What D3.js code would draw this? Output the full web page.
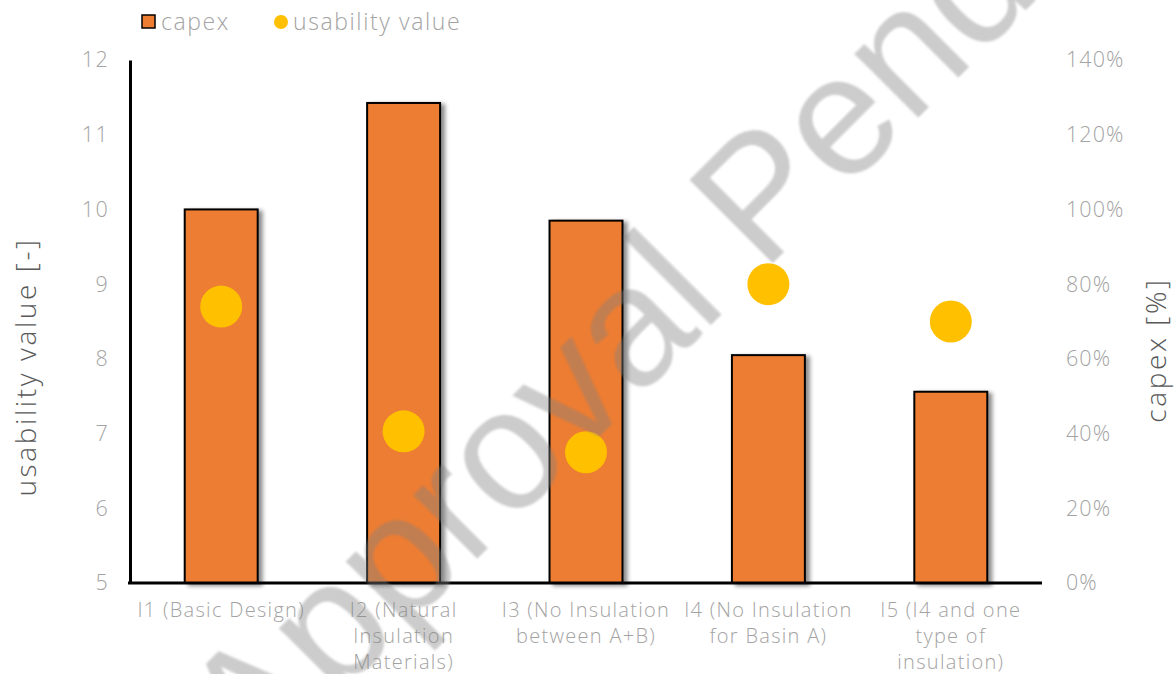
<!DOCTYPE html>
<html>
<head>
<meta charset="utf-8">
<script src="https://cdn.jsdelivr.net/npm/d3@7"></script>
<style>
  html, body { margin: 0; padding: 0; background: #fff; }
  svg { display: block; font-family: "Open Sans", Lato, sans-serif; font-weight: 300; }
</style>
</head>
<body>
<svg id="chart" width="1175" height="674"></svg>
<script>
// Design variants
const categories = ["I1", "I2", "I3", "I4", "I5"];
const categoryLines = [
  ["I1 (Basic Design)"],
  ["I2 (Natural", "Insulation", "Materials)"],
  ["I3 (No Insulation", "between A+B)"],
  ["I4 (No Insulation", "for Basin A)"],
  ["I5 (I4 and one", "type of", "insulation)"]
];
// capex relative to the basic design (fraction)
const capex = [1.00, 1.285, 0.97, 0.61, 0.512];
// usability value [-]
const usability = [8.7, 7.03, 6.75, 9.0, 8.5];

const leftTicks = [5, 6, 7, 8, 9, 10, 11, 12];
const rightTicks = [0, 0.2, 0.4, 0.6, 0.8, 1.0, 1.2, 1.4];

const svg = d3.select("#chart");
const plot = { left: 130, right: 1042, top: 60, bottom: 583 };

const x = d3.scaleBand().domain(categories).range([plot.left, plot.right]).paddingInner(0.6).paddingOuter(0.3);
const yL = d3.scaleLinear().domain([5, 12]).range([plot.bottom, plot.top]);
const yR = d3.scaleLinear().domain([0, 1.4]).range([plot.bottom, plot.top]);

const defs = svg.append("defs");
const shadow = defs.append("filter").attr("id", "barShadow")
  .attr("x", "-20%").attr("y", "-5%").attr("width", "150%").attr("height", "110%");
shadow.append("feDropShadow").attr("dx", 4).attr("dy", 2).attr("stdDeviation", 2)
  .attr("flood-color", "#000").attr("flood-opacity", 0.45);
const soft = defs.append("filter").attr("id", "soft");
soft.append("feGaussianBlur").attr("stdDeviation", 0.8);

const tickColor = "#a3a3a3";
const font = "'Open Sans', Lato, sans-serif";

// Bars (capex, right axis)
svg.append("g").selectAll("rect").data(categories).join("rect")
  .attr("x", d => x(d))
  .attr("y", (d, i) => yR(capex[i]))
  .attr("width", x.bandwidth())
  .attr("height", (d, i) => yR(0) - yR(capex[i]))
  .attr("fill", "#ED7D31")
  .attr("stroke", "#000")
  .attr("stroke-width", 2)
  .attr("filter", "url(#barShadow)");

// Usability markers (left axis)
svg.append("g").selectAll("circle").data(categories).join("circle")
  .attr("cx", d => x(d) + x.bandwidth() / 2)
  .attr("cy", (d, i) => yL(usability[i]))
  .attr("r", 21)
  .attr("fill", "#FFC000");

function styleTicks(sel, size, spacing) {
  sel.attr("fill", tickColor).attr("font-size", size).attr("font-weight", 300)
    .attr("font-family", font).attr("letter-spacing", spacing);
}

// Left axis
const gL = svg.append("g").attr("transform", `translate(${plot.left},0)`)
  .call(d3.axisLeft(yL).tickValues(leftTicks).tickSize(0).tickPadding(21).tickFormat(d3.format("d")));
gL.select(".domain").attr("stroke", "#000").attr("stroke-width", 3);
styleTicks(gL.selectAll("text"), 21.5, 1.3);

// Right axis (labels only)
const gR = svg.append("g").attr("transform", `translate(${plot.right},0)`)
  .call(d3.axisRight(yR).tickValues(rightTicks).tickSize(0).tickPadding(24).tickFormat(d3.format(".0%")));
gR.select(".domain").remove();
styleTicks(gR.selectAll("text"), 21.5, 1.1);

// Bottom axis with wrapped category labels
const gB = svg.append("g").attr("transform", `translate(0,${plot.bottom})`)
  .call(d3.axisBottom(x).tickSize(0).tickPadding(0).tickFormat(""));
gB.select(".domain").attr("stroke", "#000").attr("stroke-width", 3)
  .attr("d", `M${plot.left - 2},0H${plot.right}`);
gB.selectAll(".tick text").each(function(d, i) {
  const t = d3.select(this).attr("y", 0).attr("dy", null);
  styleTicks(t, 20, 1.3);
  categoryLines[i].forEach((line, j) => {
    t.append("tspan").attr("x", 0).attr("y", 34 + j * 26).text(line);
  });
});

// Axis titles
svg.append("text")
  .attr("transform", "translate(36,367) rotate(-90)")
  .attr("text-anchor", "middle")
  .attr("fill", "#595959").attr("font-size", 28).attr("letter-spacing", 2.6)
  .text("usability value [-]");
svg.append("text")
  .attr("transform", "translate(1166,350) rotate(-90)")
  .attr("text-anchor", "middle")
  .attr("fill", "#595959").attr("font-size", 28).attr("letter-spacing", 2.6)
  .text("capex [%]");

// Legend
const legend = svg.append("g").attr("font-size", 23).attr("fill", tickColor).attr("letter-spacing", 1.6);
legend.append("rect").attr("x", 142).attr("y", 15).attr("width", 13).attr("height", 13)
  .attr("fill", "#ED7D31").attr("stroke", "#000").attr("stroke-width", 1.5);
legend.append("text").attr("x", 161).attr("y", 30).text("capex");
legend.append("circle").attr("cx", 281).attr("cy", 22).attr("r", 7).attr("fill", "#FFC000");
legend.append("text").attr("x", 293).attr("y", 30).text("usability value");

// Watermark
const wm = svg.append("text")
  .attr("font-family", "'Liberation Sans', Arial, sans-serif")
  .attr("font-weight", 400)
  .attr("font-size", 170)
  .attr("fill", "#808080").attr("fill-opacity", 0.4)
  .attr("filter", "url(#soft)")
  .text("Approval Pending");
// the "P" of "Pending" sits on the baseline through (770, 266), rotated 45°
const pre = wm.node().getSubStringLength(0, 9);
wm.attr("transform", "translate(770,266) rotate(-45)").attr("x", -pre - 10).attr("y", 0);
</script>
</body>
</html>
